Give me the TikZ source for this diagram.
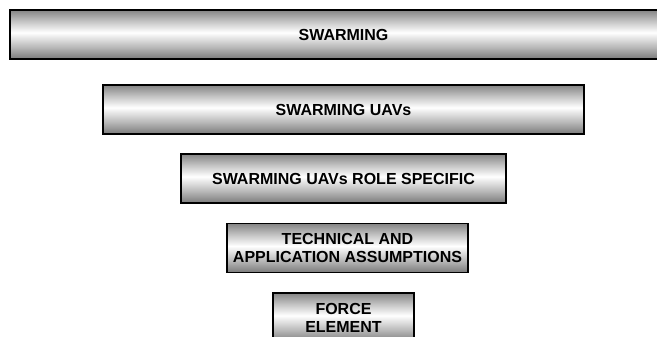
\documentclass[tikz,border=0pt]{standalone}
\usepackage{fontspec}
\setmainfont{Liberation Sans}
\pgfdeclareverticalshading{bac}{100bp}{color(0bp)=(black!50); color(25bp)=(black!52); color(37bp)=(black!28); color(52bp)=(white); color(63bp)=(black!22); color(75bp)=(black!48); color(100bp)=(black!48)}
\tikzset{bac/.style={draw,line width=1.2pt,shading=bac,inner sep=0pt,align=center,
 minimum height=49pt,font=\fontsize{16}{18}\selectfont\bfseries}}

\begin{document}
\begin{tikzpicture}[x=1pt,y=-1pt]
 \useasboundingbox (0,0) rectangle (657,337);
 \clip (0,0) rectangle (657,337);
 %tâm x / tâm y / bề rộng / chữ
 \foreach \i/\x/\y/\w/\t in {
 1/343.5/34.5/667/{SWARMING},
 2/343.5/109.5/481/{SWARMING UAVs},
 3/343.5/178.5/325/{SWARMING UAVs ROLE SPECIFIC},
 4/347.5/248/241/{TECHNICAL AND\\APPLICATION ASSUMPTIONS},
 5/343.5/317.5/141/{FORCE\\ELEMENT}}
 \path (\x,\y) node[bac,minimum width=\w pt] (b\i) {\t};
\end{tikzpicture}
\end{document}
